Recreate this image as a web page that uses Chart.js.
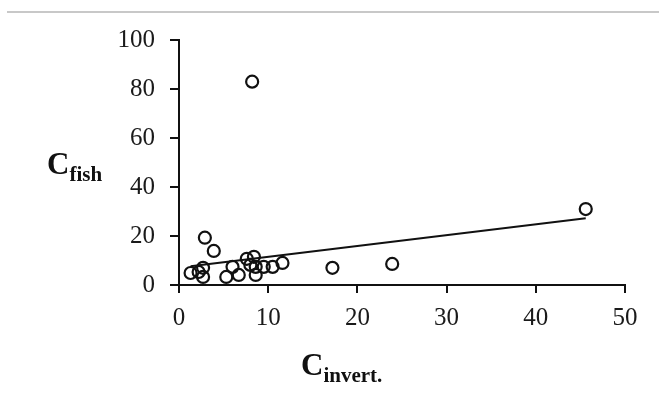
<!DOCTYPE html>
<html>
<head>
<meta charset="utf-8">
<script src="https://cdn.jsdelivr.net/npm/chart.js@4.4.1/dist/chart.umd.min.js"></script>
<style>
  body { margin: 0; background: #fff; }
  #wrap { position: relative; width: 659px; height: 403px; }
  #topline { position: absolute; left: 7px; right: 0; top: 11px; height: 0; border-top: 2px solid #c8c8c8; }
  .ttl { position: absolute; font-family: 'Liberation Serif', 'Times New Roman', serif; font-weight: bold; color: #111; white-space: nowrap; }
  .ttl .big { font-size: 31px; }
  .ttl sub { font-size: 21px; vertical-align: -7px; }
</style>
</head>
<body>
<div id="wrap">
  <canvas id="myChart" width="659" height="403"></canvas>
  <div id="topline"></div>
  <div class="ttl" style="left:47px; top:146px;"><span class="big">C</span><sub>fish</sub></div>
  <div class="ttl" style="left:301px; top:347px;"><span class="big">C</span><sub>invert.</sub></div>
</div>
<script>
// du lieu doc tu hinh
const invertX = [8.2, 45.6, 23.9, 17.2, 2.9, 3.9, 1.3, 2.2, 2.7, 2.7, 5.3, 6.0, 6.7, 7.6, 8.4, 8.6, 8.6, 9.5, 10.5, 11.6, 8.0];
const fishY   = [83, 31, 8.6, 7.0, 19.3, 13.9, 4.9, 5.3, 7.0, 3.3, 3.3, 7.4, 4.1, 10.7, 11.5, 7.4, 4.1, 7.4, 7.4, 9.0, 8.2];
const trendX = [1.3, 45.6];
const trendY = [7.7, 27.2];
const xTicks = [0, 10, 20, 30, 40, 50];
const yTicks = [0, 20, 40, 60, 80, 100];

const ctx = document.getElementById('myChart').getContext('2d');
const tickFont = { family: "'Liberation Serif', 'Times New Roman', serif", size: 25 };

const myChart = new Chart(ctx, {
    type: 'scatter',
    data: {
        datasets: [{
            label: 'points',
            data: invertX.map((x, i) => ({ x: x, y: fishY[i] })),
            backgroundColor: 'rgba(0,0,0,0)',
            borderColor: '#111',
            borderWidth: 2.2,
            pointRadius: 6,
            order: 1
        }, {
            type: 'line',
            label: 'trend',
            data: trendX.map((x, i) => ({ x: x, y: trendY[i] })),
            borderColor: '#111',
            borderWidth: 2,
            pointRadius: 0,
            fill: false,
            order: 2
        }]
    },
    options: {
        responsive: false,
        animation: false,
        layout: { padding: { left: 0, right: 34, top: 40, bottom: 0 } },
        plugins: { legend: { display: false }, tooltip: { enabled: false } },
        scales: {
            x: {
                type: 'linear',
                min: 0, max: 50,
                afterBuildTicks: (s) => { s.ticks = xTicks.map(v => ({ value: v })); },
                afterFit: (s) => { s.height = 118; },
                grid: { drawOnChartArea: false, tickLength: 8, color: '#111', lineWidth: 2 },
                border: { color: '#111', width: 2 },
                ticks: { color: '#1a1a1a', font: tickFont, padding: 10, maxRotation: 0 }
            },
            y: {
                type: 'linear',
                min: 0, max: 100,
                afterBuildTicks: (s) => { s.ticks = yTicks.map(v => ({ value: v })); },
                afterFit: (s) => { s.width = 179; },
                grid: { drawOnChartArea: false, tickLength: 9, color: '#111', lineWidth: 2 },
                border: { color: '#111', width: 2 },
                ticks: { color: '#1a1a1a', font: tickFont, padding: 15 }
            }
        }
    }
});
</script>
</body>
</html>
